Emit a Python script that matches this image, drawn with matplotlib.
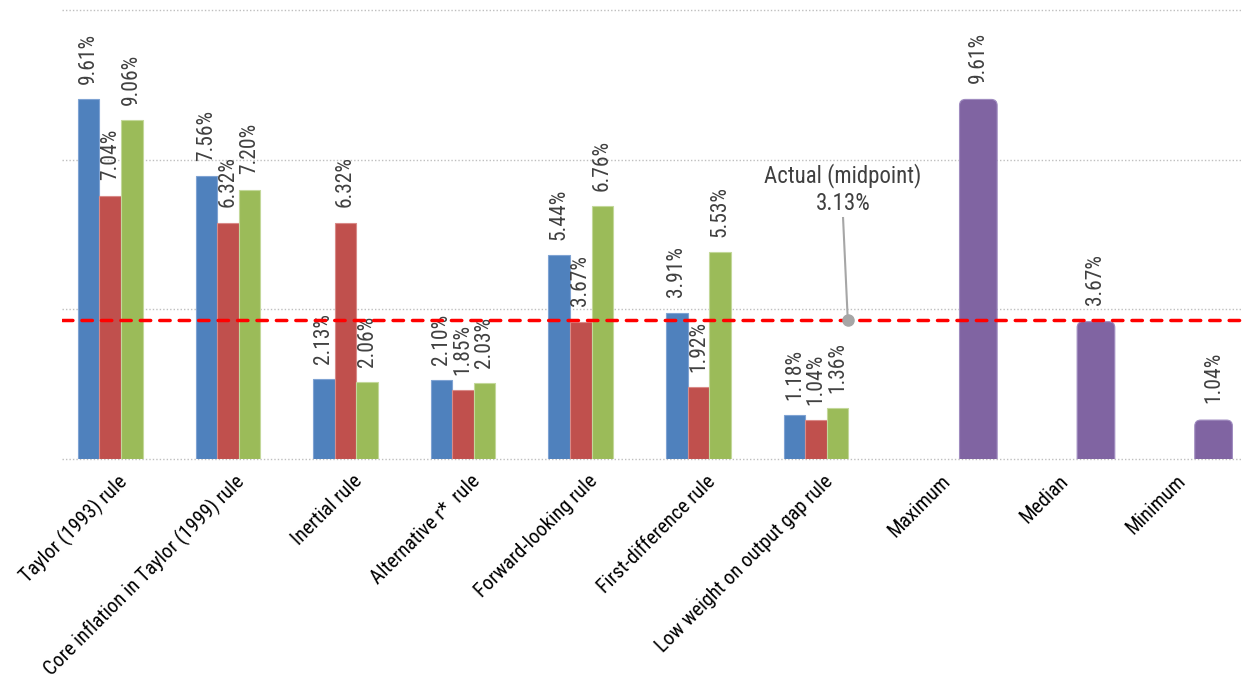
import matplotlib
matplotlib.use("Agg")
import matplotlib.pyplot as plt
from matplotlib.patches import FancyBboxPatch
from matplotlib.transforms import ScaledTranslation
import numpy as np

plt.rcParams['font.family'] = ['Roboto Condensed', 'Archivo Narrow', 'DejaVu Sans']

categories = ["Taylor (1993) rule", "Core inflation in Taylor (1999) rule", "Inertial rule",
              "Alternative r*  rule", "Forward-looking rule", "First-difference rule",
              "Low weight on output gap rule", "Maximum", "Median", "Minimum"]
series_blue = [9.61, 7.56, 2.13, 2.10, 5.44, 3.91, 1.18]
series_red = [7.04, 6.32, 6.32, 1.85, 3.67, 1.92, 1.04]
series_green = [9.06, 7.20, 2.06, 2.03, 6.76, 5.53, 1.36]
summary_values = [9.61, 3.67, 1.04]
actual_line = 3.72
actual_label = "Actual (midpoint)\n3.13%"

colors = ["#4F81BD", "#C0504D", "#9BBB59"]
edges = ["#7FA3D3", "#D98A88", "#C3D89A"]
purple = "#8064A2"
label_color = "#404040"

fig = plt.figure(figsize=(12.43, 6.81), dpi=100)
ax = fig.add_axes([62/1243, 1 - 459/681, 1181/1243, 449/681])
ax.set_xlim(-0.41, 9.63)
ax.set_ylim(0, 12)

for yv in [0, 4, 8, 12]:
    ax.axhline(yv, color="#BFBFBF", lw=1.0, ls=(0, (1, 1.5)), zorder=0, clip_on=False)

w = 0.183
x = np.arange(len(series_blue))
for k, (vals, c, ec) in enumerate(zip([series_blue, series_red, series_green], colors, edges)):
    xs = x + (k - 1) * w
    ax.bar(xs, vals, width=w, color=c, edgecolor=ec, linewidth=0.8, zorder=2)
    for xi, v in zip(xs, vals):
        ax.annotate(f"{v:.2f}%", (xi, v), xytext=(0, 11), textcoords="offset points",
                    rotation=90, ha="center", va="bottom", fontsize=15.5, color=label_color)

pw = 0.32
poff = 0.38
px = np.arange(7, 10) + poff
for xi, v in zip(px, summary_values):
    p = FancyBboxPatch((xi - pw/2, -0.5), pw, v + 0.5,
                       boxstyle="round,pad=0,rounding_size=0.05",
                       mutation_aspect=3.2, facecolor=purple, edgecolor="#A08CC0",
                       linewidth=0.8, zorder=2)
    ax.add_patch(p)
    ax.annotate(f"{v:.2f}%", (xi, v), xytext=(0, 12), textcoords="offset points",
                rotation=90, ha="center", va="bottom", fontsize=15.5, color=label_color)

ax.axhline(actual_line, color="#FF0000", lw=2.5, ls=(0, (3, 2.6)),
           dash_capstyle="round", zorder=3)

xa = 6.27
ax.plot([xa - 0.04, xa], [actual_line + 2.72, actual_line], color="#A6A6A6", lw=1.5, zorder=4)
ax.plot([xa], [actual_line], marker="o", color="#A6A6A6", ms=8, zorder=5)
ax.text(xa - 0.04, actual_line + 2.80, actual_label, ha="center", va="bottom",
        fontsize=16.5, color=label_color, linespacing=1.25)

ax.set_xticks(np.arange(len(categories)))
ax.set_xticklabels(categories, rotation=45, ha="right", va="center", rotation_mode="anchor",
                   fontsize=14.6, color="black")
ax.tick_params(axis="x", length=0, pad=14)
shift = ScaledTranslation(0.14, 0, fig.dpi_scale_trans)
for lab in ax.get_xticklabels():
    lab.set_transform(lab.get_transform() + shift)
ax.set_yticks([])
for s in ax.spines.values():
    s.set_visible(False)

fig.savefig("out.png", dpi=100)
